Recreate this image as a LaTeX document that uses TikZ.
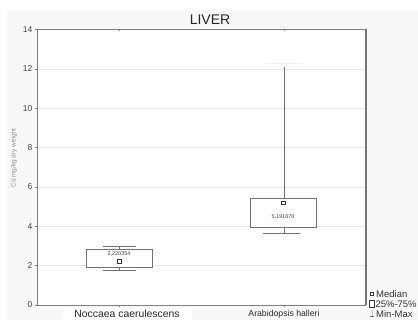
\documentclass[tikz,border=0pt]{standalone}
\usepackage{fontspec}
\setmainfont{Liberation Sans}
\definecolor{bgc}{HTML}{F8F8F8}
\definecolor{framec}{HTML}{808080}
\definecolor{gridc}{HTML}{E6E6E6}
\definecolor{txtc}{HTML}{404040}
\definecolor{boxc}{HTML}{707070}
\tikzset{
  ticklab/.style={anchor=east, text=txtc, font=\fontsize{8.5}{9}\selectfont, inner sep=0pt},
  gridline/.style={draw=gridc, line width=0.6pt},
  boxnode/.style={draw=boxc, line width=0.7pt, fill=white, inner sep=0pt},
  whisk/.style={draw=boxc, line width=0.7pt},
  medmark/.style={draw=black!80, fill=white, line width=0.5pt, minimum size=3.8pt, inner sep=0pt},
  vallab/.style={text=black!75, font=\fontsize{5.5}{6}\selectfont, inner sep=0pt},
  leglab/.style={anchor=west, text=black!80, font=\fontsize{9.5}{10}\selectfont, inner sep=0pt},
}
\begin{document}
\begin{tikzpicture}[x=1pt,y=-1pt]
\useasboundingbox (0,0) rectangle (418,320);
\fill[white] (0,0) rectangle (418,320);
\fill[bgc] (7,10) rectangle (418,320);
% plot area
\fill[white] (37,29.5) rectangle (366,305);
\fill[white] (63,308) rectangle (192,320);
% grid
\foreach \v in {2,4,...,12} {
  \draw[gridline] (37,{305-19.68*\v}) -- (365,{305-19.68*\v});
}
% frame
\draw[framec, line width=0.7pt] (37,305) -- (37,29.5) -- (366,29.5);
\draw[framec, line width=0.7pt] (37,305) -- (366,305);
\draw[framec!90!black, line width=1.6pt] (366,29.2) -- (366,305.5);
% tick labels
\foreach \v in {0,2,...,14} {
  \node[ticklab] at (32.5,{305-19.68*\v}) {\v};
  \draw[framec, line width=0.5pt] (35,{305-19.68*\v}) -- (37,{305-19.68*\v});
}
% category ticks
\foreach \x in {119,284} {
  \draw[framec, line width=0.5pt] (\x,29.5) -- (\x,31.5);
  \draw[framec, line width=0.5pt] (\x,305) -- (\x,307.5);
}
% title
\node[font=\fontsize{14}{14}\selectfont, text=black!85] (title) at (210,19.5) {LIVER};
% axis label
\node[rotate=90, text=black!45, font=\fontsize{6.5}{7}\selectfont] (ylab) at (14,158) {Cd mg/kg dry weight};
% box 1 : Noccaea caerulescens
\coordinate (max1) at (119,246.7);
\coordinate (min1) at (119,270);
\draw[whisk] (102.7,246.7) -- (136,246.7);
\draw[whisk] (102.7,270) -- (136,270);
\node[boxnode, minimum width=66pt, minimum height=17.9pt] (b1) at (119,258.25) {};
\draw[whisk] (b1.north) -- (max1);
\draw[whisk] (b1.south) -- (min1);
\node[medmark] (m1) at (119,261.5) {};
\node[vallab] (v1) at (119,254.2) {2,220354};
% box 2 : Arabidopsis halleri
\coordinate (max2) at (284,67.5);
\coordinate (min2) at (284,233.4);
\draw[draw=black!6, line width=1pt] (265,63.5) -- (303,63.5);
\draw[whisk] (263,233.4) -- (300,233.4);
\node[boxnode, minimum width=66pt, minimum height=29.4pt] (b2) at (283,212.6) {};
\draw[whisk] (b2.north -| max2) -- (max2);
\draw[whisk] (b2.south -| min2) -- (min2);
\node[medmark] (m2) at (283.3,202.8) {};
\node[vallab] (v2) at (283,216.8) {5,191670};
% category labels
\node[text=black!85, font=\fontsize{10.4}{11}\selectfont] (c1) at (127,314.2) {Noccaea caerulescens};
\node[text=black!85, font=\fontsize{8.7}{9}\selectfont] (c2) at (284,314.2) {Arabidopsis halleri};
% legend
\node[draw=black!80, fill=white, line width=0.5pt, minimum size=3.4pt, inner sep=0pt] (lg1) at (371.8,293.7) {};
\node[leglab] (lt1) at (376,293.7) {Median};
\node[draw=black!80, fill=white, line width=0.5pt, minimum width=5pt, minimum height=7pt, inner sep=0pt] (lg2) at (372,304) {};
\node[leglab] (lt2) at (375.3,304) {25\%-75\%};
\coordinate (lg3a) at (372,310);
\coordinate (lg3b) at (372,316.5);
\draw[black!25, line width=0.5pt] (lg3a) -- (lg3b);
\draw[black!60, line width=0.5pt] (370,316.5) -- (374.3,316.5);
\node[leglab] (lt3) at (376,314) {Min-Max};
\end{tikzpicture}
\end{document}
